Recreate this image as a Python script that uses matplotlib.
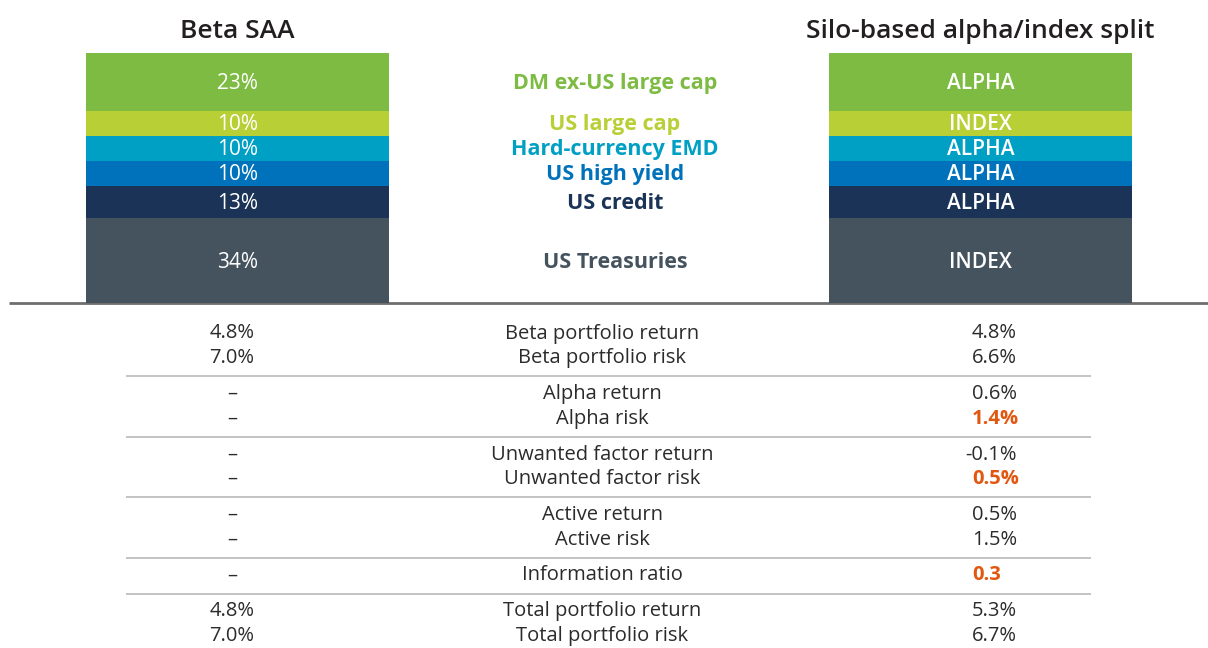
import matplotlib
matplotlib.use("Agg")
import matplotlib.pyplot as plt
import numpy as np

plt.rcParams['font.family'] = ['Open Sans', 'DejaVu Sans']

# ---------------- data ----------------
panel_titles = ["Beta SAA", "Silo-based alpha/index split"]
categories = ["DM ex-US large cap", "US large cap", "Hard-currency EMD",
              "US high yield", "US credit", "US Treasuries"]
weights = [23, 10, 10, 10, 13, 34]
weight_labels = ["23%", "10%", "10%", "10%", "13%", "34%"]
silo_labels = ["ALPHA", "INDEX", "ALPHA", "ALPHA", "ALPHA", "INDEX"]
colors = ["#7dbb42", "#b9cf36", "#00a0c4", "#0071bb", "#1a3357", "#44535e"]

metric_groups = [["Beta portfolio return", "Beta portfolio risk"],
                 ["Alpha return", "Alpha risk"],
                 ["Unwanted factor return", "Unwanted factor risk"],
                 ["Active return", "Active risk"],
                 ["Information ratio"],
                 ["Total portfolio return", "Total portfolio risk"]]
beta_saa_values = [["4.8%", "7.0%"], ["–", "–"], ["–", "–"],
                   ["–", "–"], ["–"], ["4.8%", "7.0%"]]
silo_values = [["4.8%", "6.6%"], ["0.6%", "1.4%"], ["-0.1%", "0.5%"],
               ["0.5%", "1.5%"], ["0.3"], ["5.3%", "6.7%"]]
silo_highlight = [[False, False], [False, True], [False, True],
                  [False, False], [True], [False, False]]

# ---------------- layout ----------------
W, H = 1208, 648
fig = plt.figure(figsize=(W / 100, H / 100), dpi=100)
fig.patch.set_facecolor("white")

text_col = "#2b2b2b"
orange = "#e2570f"

# full-figure pixel axes for table & rules
ax_t = fig.add_axes([0, 0, 1, 1])
ax_t.set_xlim(0, W)
ax_t.set_ylim(H, 0)
ax_t.axis("off")

bar_top_px, bar_bot_px = 53.3, 303.3
centers_px = [237.5, 980.5]
bar_w_px = 303
unit = centers_px[1] - centers_px[0]

ax_b = fig.add_axes([0, (H - bar_bot_px) / H, 1, (bar_bot_px - bar_top_px) / H])
ax_b.patch.set_alpha(0)
ax_b.set_xlim(-centers_px[0] / unit, 1 + (W - centers_px[1]) / unit)
ax_b.set_ylim(0, 100)
ax_b.axis("off")

# baseline rule
ax_t.plot([9, W], [bar_bot_px, bar_bot_px], color="#6e6e6e", lw=2.0,
          solid_capstyle="butt", zorder=1)

w = np.array(weights, dtype=float)
tops = 100 - np.concatenate([[0], np.cumsum(w)[:-1]])
bottoms = tops - w
mids = bottoms + w / 2
label_dy = -1.2  # points, nudges labels slightly down

cat_x = (615 - centers_px[0]) / unit
bw = bar_w_px / unit
for i in range(len(categories)):
    for xi in (0, 1):
        ax_b.bar(xi, w[i], bottom=bottoms[i], width=bw, color=colors[i],
                 edgecolor="none", zorder=2)
    ax_b.annotate(weight_labels[i], xy=(0, mids[i]), xytext=(0, label_dy),
                  textcoords="offset points", ha="center", va="center",
                  color="white", fontsize=15, zorder=3)
    ax_b.annotate(silo_labels[i], xy=(1, mids[i]), xytext=(0, label_dy),
                  textcoords="offset points", ha="center", va="center",
                  color="white", fontsize=15, fontweight="semibold", zorder=3)
    ax_b.annotate(categories[i], xy=(cat_x, mids[i]), xytext=(0, label_dy),
                  textcoords="offset points", ha="center", va="center",
                  color=colors[i], fontsize=15.5, fontweight="bold", zorder=3)

for xi, t in enumerate(panel_titles):
    ax_b.annotate(t, xy=(xi, 100), xytext=(0, 16), textcoords="offset points",
                  ha="center", va="center", fontsize=19, fontweight="semibold",
                  color="#231f20")

# table
left_x, mid_x, right_x = 232, 602.5, 972
y = 333.5
row_step = 24.7
group_gap = 35.8
fs = 14.5
for g, labels in enumerate(metric_groups):
    for r, lab in enumerate(labels):
        ax_t.text(mid_x, y, lab, ha="center", va="center", fontsize=fs,
                  color=text_col)
        ax_t.text(left_x, y, beta_saa_values[g][r], ha="center", va="center",
                  fontsize=fs, color=text_col)
        v = silo_values[g][r]
        hl = silo_highlight[g][r]
        ax_t.text(right_x - (7 if v.startswith("-") else 0), y, v,
                  ha="left", va="center", fontsize=fs,
                  color=orange if hl else text_col,
                  fontweight="bold" if hl else "normal")
        if r < len(labels) - 1:
            y += row_step
    if g < len(metric_groups) - 1:
        ax_t.plot([126, 1091], [y + 18, y + 18], color="#b9b9b9", lw=1.2,
                  solid_capstyle="butt")
        y += group_gap

fig.savefig("out.png", dpi=100, facecolor="white")
